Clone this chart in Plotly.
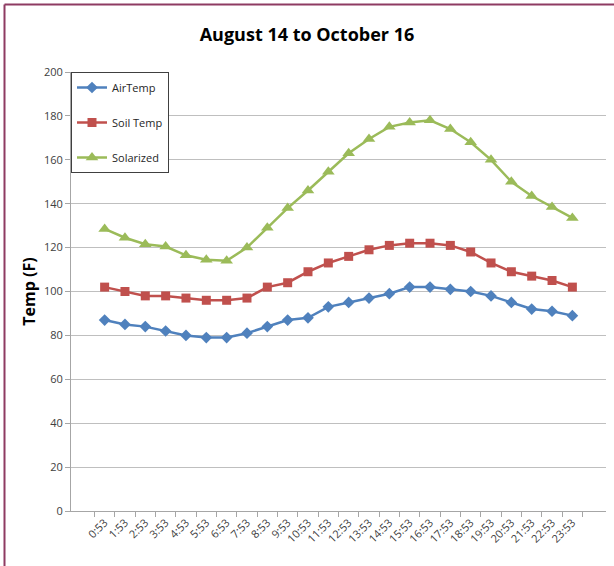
import plotly.graph_objects as go

times = ["0:53","1:53","2:53","3:53","4:53","5:53","6:53","7:53","8:53","9:53","10:53","11:53",
         "12:53","13:53","14:53","15:53","16:53","17:53","18:53","19:53","20:53","21:53","22:53","23:53"]
air_temp = [87, 85, 84, 82, 80, 79, 79, 81, 84, 87, 88, 93, 95, 97, 99, 102, 102, 101, 100, 98, 95, 92, 91, 89]
soil_temp = [102, 100, 98, 98, 97, 96, 96, 97, 102, 104, 109, 113, 116, 119, 121, 122, 122, 121, 118, 113, 109, 107, 105, 102]
solarized = [128.5, 124.5, 121.5, 120.5, 116.5, 114.5, 114, 120, 129, 138, 146, 154.5, 163, 169.5, 175, 177, 178, 174, 168, 160, 150, 143.5, 138.5, 133.5]

fig = go.Figure()
fig.add_trace(go.Scatter(x=times, y=air_temp, name="AirTemp", mode="lines+markers",
                         line=dict(color="#4F81BD", width=2.5),
                         marker=dict(symbol="diamond", size=9, color="#4F81BD"),
                         legendgroup="a"))
fig.add_trace(go.Scatter(x=times, y=soil_temp, name="Soil Temp", mode="lines+markers",
                         line=dict(color="#C0504D", width=2.5),
                         marker=dict(symbol="square", size=9, color="#C0504D"),
                         legendgroup="b"))
fig.add_trace(go.Scatter(x=times, y=solarized, name="Solarized", mode="lines+markers",
                         line=dict(color="#9BBB59", width=2.5),
                         marker=dict(symbol="triangle-up", size=11, color="#9BBB59"),
                         legendgroup="c"))

W, H = 614, 566
ml, mr, mt, mb = 71, 8, 72, 55
pw, ph = W - ml - mr, H - mt - mb

def px2x(p):
    return (p - ml) / pw

def py2y(p):
    return (H - mb - p) / ph

border = "#8E3B62"
fig.add_shape(type="line", xref="paper", yref="paper",
              x0=px2x(4.5), x1=px2x(W + 5), y0=py2y(4.5), y1=py2y(4.5),
              line=dict(color=border, width=2))
fig.add_shape(type="line", xref="paper", yref="paper",
              x0=px2x(4.5), x1=px2x(4.5), y0=py2y(H + 5), y1=py2y(4.5),
              line=dict(color=border, width=2))

fig.update_layout(
    width=W, height=H,
    margin=dict(l=ml, r=mr, t=mt, b=mb, autoexpand=False),
    paper_bgcolor="white", plot_bgcolor="white",
    font=dict(family="Open Sans, Liberation Sans, sans-serif", color="#404040"),
    title=dict(text="<b>August 14 to October 16</b>", x=0.5, xref="container", xanchor="center",
               y=1 - 35 / H, yanchor="middle",
               font=dict(size=18, color="black", family="Open Sans, sans-serif")),
    showlegend=True,
    legend=dict(x=0, y=1, xanchor="left", yanchor="top",
                bordercolor="#404040", borderwidth=1, bgcolor="white",
                font=dict(size=11, color="#262626"),
                traceorder="grouped", tracegroupgap=16,
                itemwidth=30),
)
fig.update_xaxes(type="category", automargin=False, showgrid=False, showline=True, linecolor="#A6A6A6", linewidth=1,
                 ticks="outside", ticklen=5, tickcolor="#A6A6A6", tickson="boundaries",
                 tickangle=-45, tickfont=dict(size=11, color="#404040"))
fig.update_yaxes(range=[0, 200], dtick=20, automargin=False, showgrid=True, gridcolor="#BFBFBF", gridwidth=1,
                 showline=True, linecolor="#A6A6A6", linewidth=1, zeroline=False,
                 ticks="outside", ticklen=5, tickcolor="#A6A6A6",
                 tickfont=dict(size=11, color="#404040"),
                 title=dict(text="<b>Temp (F)</b>", font=dict(size=16, color="black"), standoff=4))

fig.write_html("out.html", config={"displayModeBar": False},
               post_script="document.body.style.margin='0px';")
